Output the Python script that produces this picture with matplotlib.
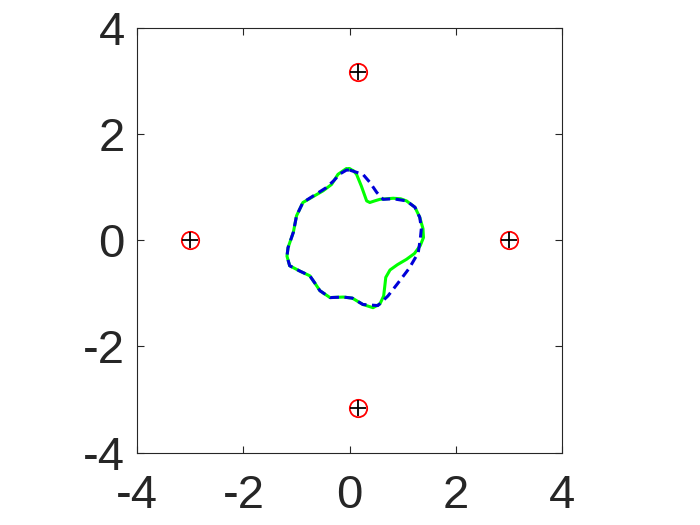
import matplotlib
matplotlib.use('Agg')
import matplotlib.pyplot as plt

# solid green contour (clockwise from the top)
green_x = [0.00, 0.07, 0.13, 0.22, 0.32, 0.38, 0.47, 0.57, 0.82, 0.96, 1.07, 1.23, 1.32, 1.38, 1.39,
           1.33, 1.22, 1.07, 0.90, 0.76, 0.68, 0.66, 0.64, 0.57, 0.44, 0.25, 0.05,
           -0.12, -0.37, -0.56, -0.66, -0.75, -0.94, -1.13, -1.18, -1.16, -1.06,
           -1.00, -0.88, -0.69, -0.50, -0.34, -0.22, -0.06, 0.00]
green_y = [1.34, 1.31, 1.24, 1.02, 0.74, 0.71, 0.74, 0.77, 0.79, 0.78, 0.74, 0.62, 0.43, 0.22, 0.05,
           -0.10, -0.25, -0.36, -0.46, -0.56, -0.70, -0.88, -1.05, -1.20, -1.27, -1.21, -1.09,
           -1.07, -1.08, -0.95, -0.80, -0.67, -0.58, -0.48, -0.30, -0.14, 0.15,
           0.46, 0.71, 0.82, 0.93, 1.05, 1.24, 1.35, 1.34]

# dashed blue contour
blue_x = [0.00, 0.25, 0.38, 0.51, 0.63, 0.82, 1.07, 1.23, 1.32, 1.35, 1.33, 1.29,
          1.12, 0.90, 0.72, 0.53, 0.25, 0.05, -0.12, -0.37, -0.56, -0.66, -0.75,
          -0.94, -1.13, -1.18, -1.16, -1.06, -1.00, -0.88, -0.66, -0.44, -0.30,
          -0.18, -0.06, 0.00]
blue_y = [1.32, 1.24, 1.09, 0.90, 0.77, 0.78, 0.74, 0.62, 0.43, 0.22, 0.02, -0.24,
          -0.53, -0.82, -1.05, -1.23, -1.21, -1.09, -1.07, -1.08, -0.95, -0.80, -0.67,
          -0.58, -0.48, -0.30, -0.14, 0.15, 0.46, 0.71, 0.85, 0.99, 1.12,
          1.25, 1.32, 1.32]

# source points
src_x = [0.16, -3.0, 3.0, 0.16]
src_y = [3.16, 0.0, 0.0, -3.16]

ticks = [-4, -2, 0, 2, 4]
dark = (0.15, 0.15, 0.15)

plt.rcParams['font.family'] = ['Liberation Sans', 'DejaVu Sans']

fig = plt.figure(figsize=(7, 5.25), dpi=100)
ax = fig.add_axes([0.196, 0.1377, 0.607, 0.8095])

ax.plot(green_x, green_y, color=(0.0, 1.0, 0.0), linewidth=2.2)
ax.plot(blue_x, blue_y, color=(0.0, 0.0, 0.85), linewidth=2.2, linestyle=(0, (3, 1.8)))
ax.plot(src_x, src_y, 'o', markersize=12.5, markerfacecolor='none',
        markeredgecolor='red', markeredgewidth=1.3, linestyle='none')
ax.plot(src_x, src_y, '+', markersize=12, color='black', markeredgewidth=1.3,
        linestyle='none')

ax.set_xlim(-4, 4)
ax.set_ylim(-4, 4)
ax.set_xticks(ticks)
ax.set_yticks(ticks)
ax.set_xticklabels([str(t) for t in ticks])
ax.set_yticklabels([str(t) for t in ticks])
ax.tick_params(direction='in', length=5, width=0.8, color=dark, labelcolor=dark,
               labelsize=34, top=True, right=True)
ax.tick_params(axis='x', pad=15)
ax.tick_params(axis='y', pad=9)
for s in ax.spines.values():
    s.set_color(dark)
    s.set_linewidth(0.8)

fig.savefig('out.png', dpi=100)
